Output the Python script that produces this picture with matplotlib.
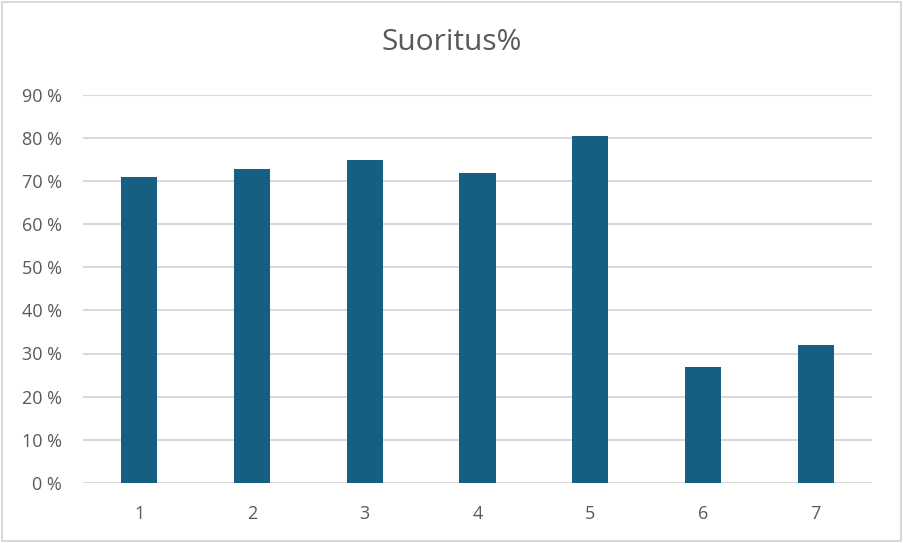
import matplotlib
matplotlib.use('Agg')
import matplotlib.pyplot as plt
from matplotlib.patches import Rectangle

# data
categories = ['1', '2', '3', '4', '5', '6', '7']
values = [70.8, 72.8, 74.9, 71.9, 80.3, 26.9, 31.9]  # percent
yticks = [0, 10, 20, 30, 40, 50, 60, 70, 80, 90]

bar_color = '#156082'
text_color = '#595959'
grid_color = '#D9D9D9'

plt.rcParams['font.family'] = ['Open Sans', 'DejaVu Sans']

fig = plt.figure(figsize=(9.04, 5.43), dpi=100)
ax = fig.add_axes([83/904, 1 - 483/543, (872 - 83)/904, (483 - 94.5)/543])

x = range(len(categories))
ax.bar(x, values, width=0.32, color=bar_color, zorder=3)

ax.set_xlim(-0.5, len(categories) - 0.5)
ax.set_ylim(0, 90)
ax.set_yticks(yticks)
ax.set_yticklabels([str(t) + ' %' for t in yticks])
ax.set_xticks(list(x))
ax.set_xticklabels(categories)

ax.grid(axis='y', color=grid_color, linewidth=1.5, zorder=0)
for s in ax.spines.values():
    s.set_visible(False)
ax.tick_params(axis='both', length=0, colors=text_color, labelsize=13)
ax.tick_params(axis='y', pad=15)
ax.tick_params(axis='x', pad=16)

fig.text(0.5, 1 - 42/543, 'Suoritus%', ha='center', va='center', fontsize=21.5, color=text_color)

# light border around the chart area
fig.patches.append(Rectangle((0.002, 0.003), 0.995, 0.993, transform=fig.transFigure,
                             fill=False, edgecolor=grid_color, linewidth=1.5))

fig.savefig('out.png', dpi=100)
